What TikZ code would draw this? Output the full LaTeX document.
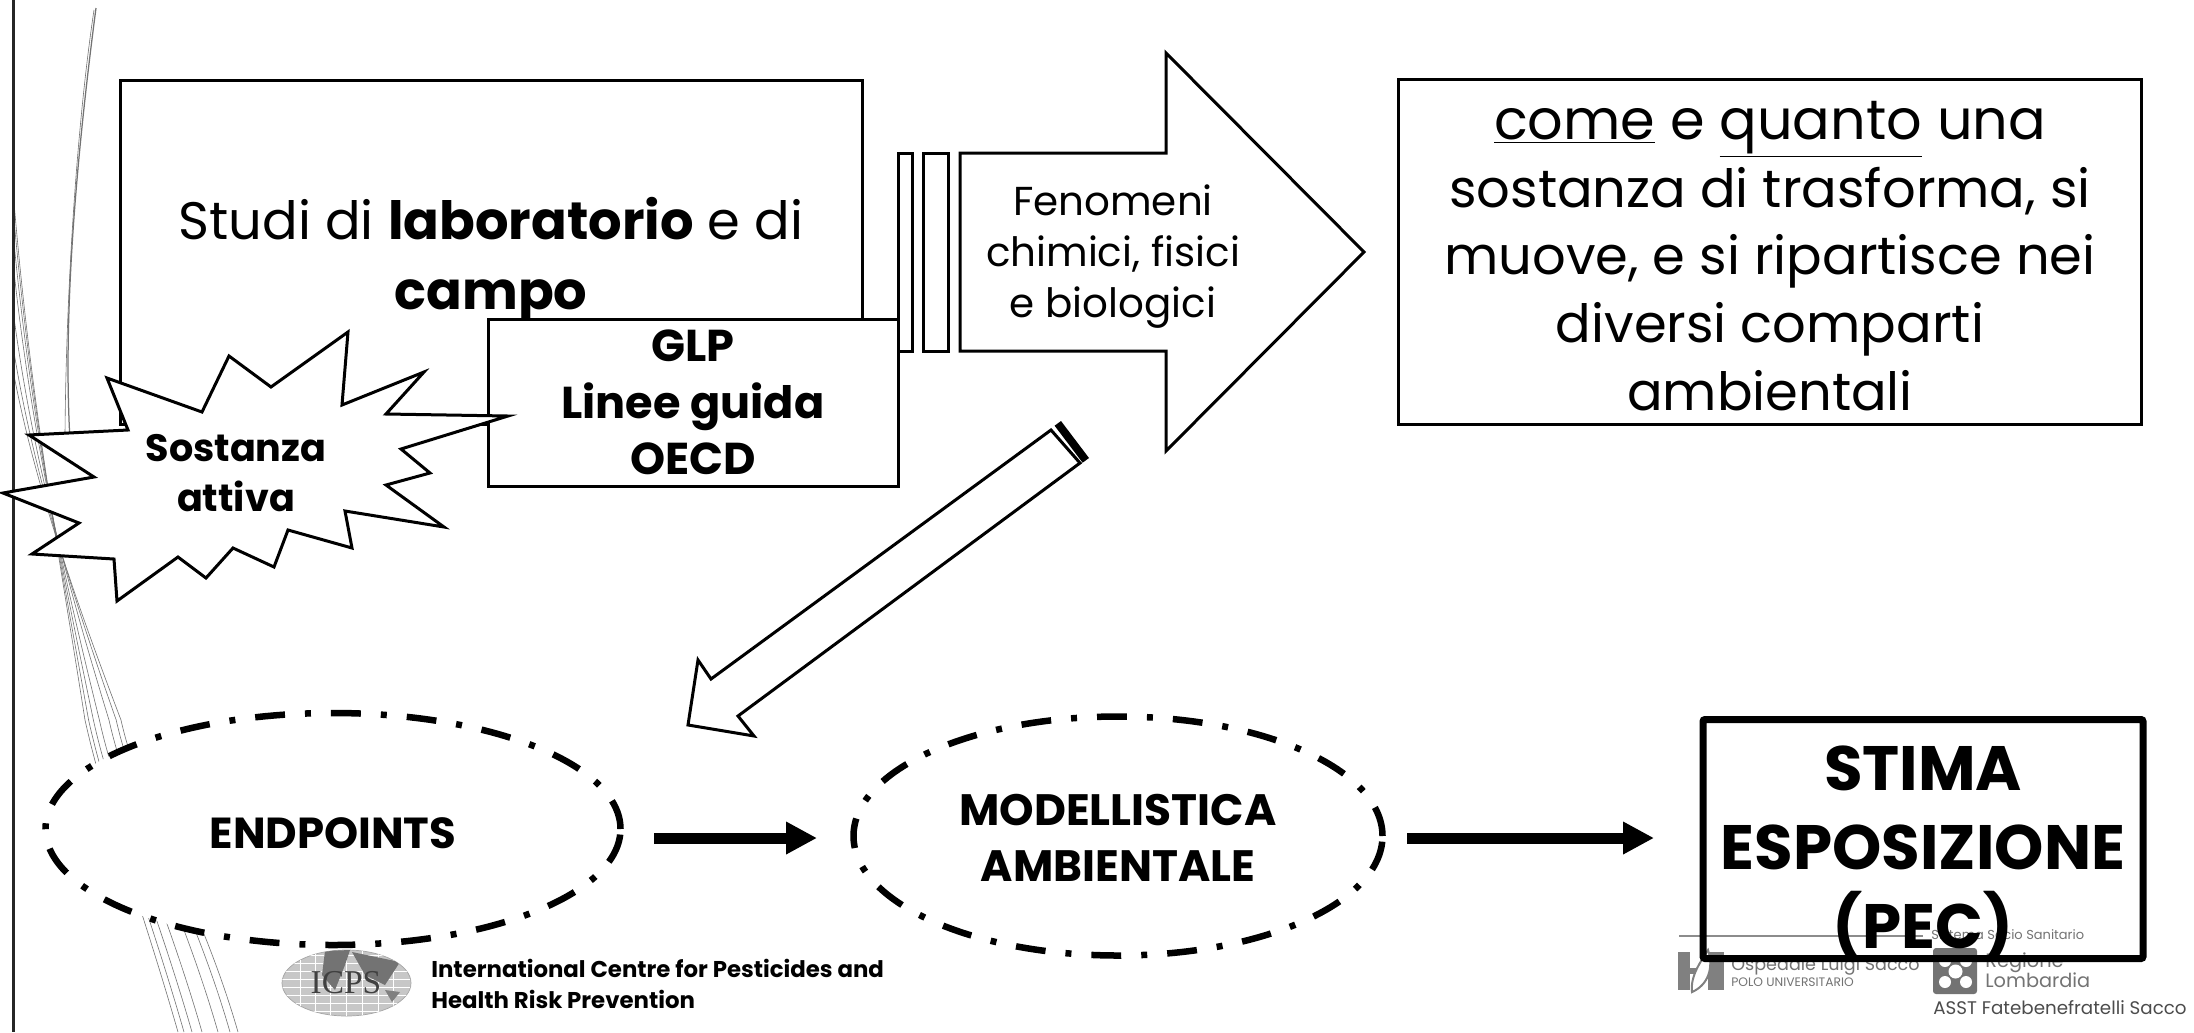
\documentclass[tikz,border=0pt]{standalone}
\usepackage{fontspec}
\setmainfont{Poppins}
\newfontfamily\serifx{Liberation Serif}
\usetikzlibrary{shapes.geometric,arrows.meta}
\tikzset{
 box/.style={draw=black,fill=white,line width=3*0.02cm,inner sep=0pt,align=center,text=black},
 dd/.style={draw=black,fill=white,ellipse,inner sep=0pt,align=center,line width=6.5*0.02cm,
   dash pattern=on 17pt off 11.4pt on 3.4pt off 11.4pt},
 outline/.style={draw=black,fill=white,line width=3*0.02cm,line join=miter},
 thick arrow/.style={line width=11*0.02cm,-{Triangle[length=17.6pt,width=17.4pt]},black},
 wisp/.style={draw=black!55,line width=0.012cm},
 logotext/.style={text=black!55,inner sep=0pt,anchor=west},
 lbl/.style={inner sep=0pt,align=center,text=black}
}
\begin{document}
\begin{tikzpicture}[x=0.02cm,y=-0.02cm]
\useasboundingbox (0,0) rectangle (2194,1032);
\fill[white] (0,0) rectangle (2194,1032);
% wisps
\draw[wisp,line width=0.025cm] (96,8) .. controls (80,130) and (62,300) .. (70,440);
\draw[wisp] (94,10) .. controls (76,130) and (66,300) .. (65,435);
\foreach \d in {0,6,14,24,40,52,60}{
 \draw[wisp] (13,190+\d*3) .. controls (30,400+\d) and (60,560) .. (85+\d*.6,720) .. controls (105+\d*.6,810) and (140+\d,900) .. (178+\d,1032);
}
\draw[black!85,line width=3*0.02cm] (13,0) -- (13,1032);
% top row
\node[box,minimum width=742*0.02cm,minimum height=344*0.02cm] (lab) at (491,252) {};
\node[lbl,font={\fontsize{30}{39.8}\selectfont}] (labt) at (491,260) {Studi di \textbf{laboratorio} e di\\\textbf{campo}};
\node[box,minimum width=14*0.02cm,minimum height=198*0.02cm] (s1) at (905,252) {};
\node[box,minimum width=25*0.02cm,minimum height=198*0.02cm] (s2) at (935.5,252) {};
\draw[outline] (960,153) -- (1166,153) -- (1166,53) -- (1364,252) -- (1166,451) -- (1166,351) -- (960,351) -- cycle;
\node[lbl,font={\fontsize{23}{29}\selectfont}] (fen) at (1113,257) {Fenomeni\\chimici, fisici\\e biologici};
\node[box,minimum width=743*0.02cm,minimum height=345*0.02cm] (come) at (1770,251.5) {};
\node[lbl,font={\fontsize{30}{38.6}\selectfont}] (comet) at (1770,256) {{\fontsize{31.7}{38.6}\selectfont\underline{come} e \underline{quanto} una}\\sostanza di trasforma, si\\muove, e si ripartisce nei\\diversi comparti\\ambientali};
\node[box,font={\fontsize{25.4}{32}\selectfont\bfseries},minimum width=410*0.02cm,minimum height=167*0.02cm] (glp) at (693,402.5) {GLP\\Linee guida\\OECD};
% star
\draw[outline] (348,332) -- (342,405) -- (424,372) -- (386,414) -- (508,416) -- (401,449) -- (430,473) -- (386,485) -- (444,527) -- (345,511) -- (352,548) -- (288,530) -- (274,567) -- (233,548) -- (206,578) -- (178,557) -- (117,601) -- (114,559) -- (32,554) -- (79,523) -- (3,493) -- (94,477) -- (29,435) -- (128,430) -- (107,378) -- (202,412) -- (229,356) -- (271,387) -- cycle;
\node[lbl,font={\fontsize{21.7}{28.5}\selectfont\bfseries}] (sost) at (236,473) {Sostanza\\attiva};
% hollow arrow
\draw[outline] (1051,430) -- (711,679) -- (698,660) -- (688,725) -- (754,736) -- (738,716) -- (1080,463) -- cycle;
\fill[black] (1061,421) -- (1089,458) -- (1082.6,462.7) -- (1054.6,425.7) -- cycle;
% ellipses
\node[dd,minimum width=575*0.02cm,minimum height=232*0.02cm] (end) at (333,829) {};
\node[lbl,font={\fontsize{24.7}{28}\selectfont\bfseries}] (endt) at (333,833) {ENDPOINTS};
\node[dd,minimum width=529*0.02cm,minimum height=239*0.02cm] (mod) at (1118,836) {};
\node[lbl,font={\fontsize{25}{32}\selectfont\bfseries}] (modt) at (1118,838) {MODELLISTICA\\AMBIENTALE};
\coordinate (a1s) at (654,838); \coordinate (a1e) at (817,838);
\coordinate (a2s) at (1407,838); \coordinate (a2e) at (1654,838);
\draw[thick arrow] (a1s) -- (a1e);
\draw[thick arrow] (a2s) -- (a2e);
% right logos
\draw[black!45,line width=2*0.02cm] (1679,936) -- (1923,936);
\node[logotext,font={\fontsize{7.4}{10}\selectfont}] (sis) at (1931,935) {Sistema Socio Sanitario};
\fill[black!50] (1678,952) rectangle (1690,990);
\fill[black!50] (1708,952) rectangle (1724,990);
\fill[black!50] (1690,968) rectangle (1708,974);
\draw[black!50,fill=white,line width=0.04cm] (1692,992) .. controls (1690,975) and (1702,960) .. (1708,950) .. controls (1714,968) and (1708,985) .. cycle;
\node[logotext,font={\fontsize{10}{16}\selectfont}] (osp) at (1731,966) {Ospedale Luigi Sacco};
\node[logotext,font={\fontsize{7}{10}\selectfont}] (polo) at (1731,982) {POLO UNIVERSITARIO};
\fill[black!55,rounded corners=0.06cm] (1933,948) rectangle (1977,994);
\foreach \a/\b in {1945/961,1966/961,1945/982,1966/982}{\fill[white] (\a,\b) circle[radius=6];}
\fill[white] (1955.5,971.5) circle[radius=7];
\node[logotext,font={\fontsize{11}{16}\selectfont}] (reg) at (1985,963) {Regione};
\node[logotext,font={\fontsize{11}{16}\selectfont}] (lom) at (1985,980) {Lombardia};
\node[logotext,text=black!70,font={\fontsize{10.4}{16}\selectfont}] (asst) at (1933,1008) {ASST Fatebenefratelli Sacco};
% stima
\node[draw=black,line width=7*0.02cm,rounded corners=0.04cm,minimum width=440*0.02cm,minimum height=239*0.02cm] (sti) at (1923,839) {};
\node[lbl,font={\fontsize{35.7}{45}\selectfont\bfseries}] (stit) at (1923,854) {STIMA\\ESPOSIZIONE\\(PEC)};
% ICPS logo
\node[ellipse,fill=black!22,draw=black!35,minimum width=129*0.02cm,minimum height=66*0.02cm,inner sep=0pt] (globe) at (346.5,983) {};
\begin{scope}
\clip (346.5,983) ellipse [x radius=64.5,y radius=33];
\foreach \v in {955,963,971,979,987,995,1003,1011}{\draw[white,line width=0.02cm] (282,\v) -- (411,\v);}
\foreach \v in {300,315,330,346,362,378,393}{\draw[white,line width=0.02cm] (\v,950) -- (\v,1016);}
\fill[black!55] (325,951) -- (350,950) -- (345,965) -- (335,990) -- (322,975) -- cycle;
\fill[black!55] (352,952) -- (400,962) -- (385,985) -- (365,975) -- cycle;
\fill[black!50] (385,990) -- (400,992) -- (392,1002) -- cycle;
\end{scope}
\node[inner sep=0pt,text=black!75,font={\serifx\fontsize{19}{20}\selectfont}] (icps) at (346,983) {ICPS};
\node[lbl,anchor=west,align=left,font={\fontsize{13}{17.2}\selectfont\bfseries}] (intl) at (431,984) {International Centre for Pesticides and\\Health Risk Prevention};
\end{tikzpicture}
\end{document}
